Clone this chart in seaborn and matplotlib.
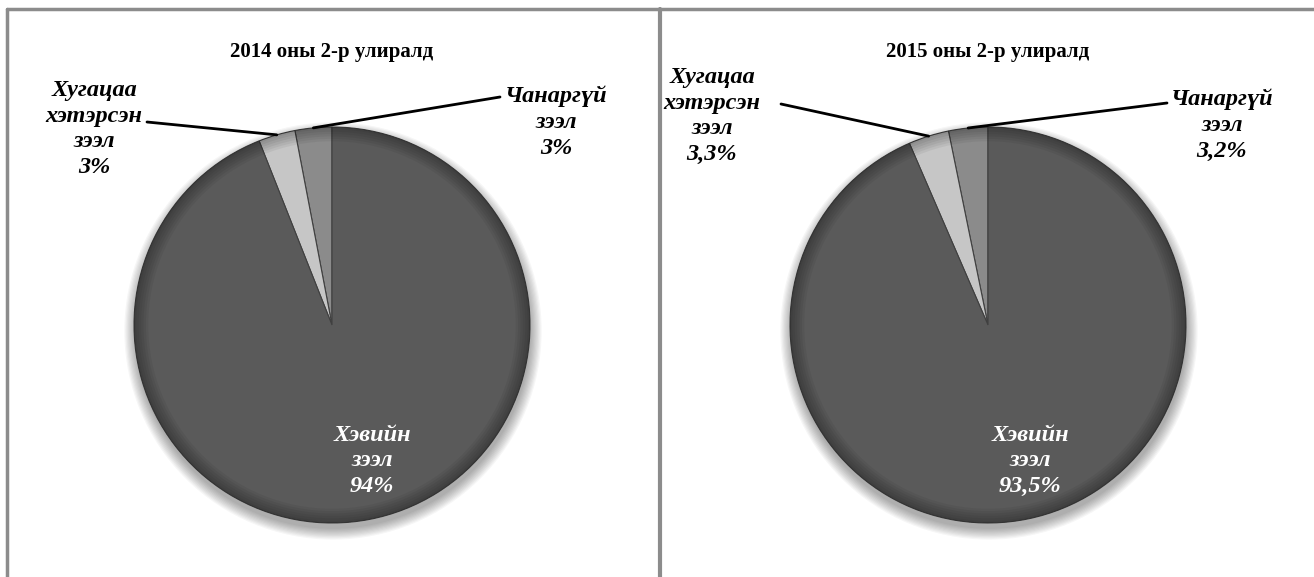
import numpy as np
import matplotlib
matplotlib.use("Agg")
import matplotlib.pyplot as plt
from matplotlib.patches import Circle, Wedge
import seaborn as sns

# --- data ---
titles = ["2014 оны 2-р улиралд", "2015 оны 2-р улиралд"]
categories = ["Чанаргүй\nзээл", "Хугацаа\nхэтэрсэн\nзээл", "Хэвийн\nзээл"]
shares_2014 = [3.0, 3.0, 94.0]
shares_2015 = [3.2, 3.3, 93.5]
pct_2014 = ["3%", "3%", "94%"]
pct_2015 = ["3,2%", "3,3%", "93,5%"]

sns.set_theme(style="white")
plt.rcParams['font.family'] = ['Liberation Serif', 'DejaVu Serif']
colors = sns.color_palette(["#8b8b8b", "#c6c6c6", "#5a5a5a"])

W, H = 1314, 577
fig = plt.figure(figsize=(W / 100, H / 100), dpi=100)

# panel frames
frame = fig.add_axes([0, 0, 1, 1], zorder=0)
frame.set_xlim(0, W)
frame.set_ylim(H, 0)
frame.axis("off")
frame.plot([7, W], [9, 9], color="#8c8c8c", lw=2.5)
frame.plot([7, 7], [9, H], color="#8c8c8c", lw=2.5)
frame.plot([660, 660], [9, H], color="#8c8c8c", lw=3)

lab_font = dict(family="Liberation Serif", weight="bold", style="italic", size=17.5)

panels = [
    dict(shares=shares_2014, pct=pct_2014, title=titles[0], cx=332, cy=325,
         late=(94, 129), late_end=(147, 122), bad=(556, 122), bad_end=(500, 97),
         inside=(372, 461)),
    dict(shares=shares_2015, pct=pct_2015, title=titles[1], cx=988, cy=325,
         late=(712, 116), late_end=(781, 104), bad=(1222, 125), bad_end=(1167, 103),
         inside=(1030, 461)),
]

r = 198
pad = 1.15
for p in panels:
    cx, cy = p["cx"], p["cy"]
    ax = fig.add_axes([(cx - r * pad) / W, (H - cy - r * pad) / H,
                       2 * r * pad / W, 2 * r * pad / H], zorder=2)

    # soft shadow
    for k in range(10):
        ax.add_patch(Circle((0.005, -0.03), 1.0 + 0.006 * k, facecolor="black",
                            alpha=0.035, lw=0, zorder=0))

    wedges, _ = ax.pie(p["shares"], colors=colors, startangle=90, counterclock=True,
                       radius=1.0, wedgeprops=dict(edgecolor="#404040", linewidth=0.8))
    for w in wedges:
        w.set_zorder(2)
    ax.set_xlim(-pad, pad)
    ax.set_ylim(-pad, pad)
    ax.axis("off")
    # rim bevel
    for k in range(6):
        ax.add_patch(Wedge((0, 0), 1.0, 0, 360, width=0.012 * (k + 1),
                           facecolor="black", alpha=0.05, lw=0, zorder=3))

    # leader lines from wedge middles
    start = 90.0
    mids = []
    for s in p["shares"]:
        mids.append(np.deg2rad(start + 3.6 * s / 2))
        start += 3.6 * s
    for idx, end in [(0, p["bad_end"]), (1, p["late_end"])]:
        ax.annotate("", xy=(np.cos(mids[idx]), np.sin(mids[idx])), xycoords="data",
                    xytext=(end[0], H - end[1]), textcoords="figure pixels",
                    arrowprops=dict(arrowstyle="-", color="black", lw=2,
                                    shrinkA=0, shrinkB=0), zorder=5)

    # inside label
    ix, iy = p["inside"]
    ax.text((ix - cx) / r, (cy - iy) / r, categories[2] + "\n" + p["pct"][2],
            color="white", ha="center", va="center", linespacing=1.3,
            zorder=6, **lab_font)

    # outside labels
    fig.text(p["late"][0] / W, 1 - p["late"][1] / H, categories[1] + "\n" + p["pct"][1],
             ha="center", va="center", linespacing=1.3, color="black", **lab_font)
    fig.text(p["bad"][0] / W, 1 - p["bad"][1] / H, categories[0] + "\n" + p["pct"][0],
             ha="center", va="center", linespacing=1.3, color="black", **lab_font)

    fig.text(cx / W, 1 - 52 / H, p["title"], ha="center", va="center",
             family="Liberation Serif", weight="bold", size=15, color="black")

fig.savefig("out.png", dpi=100)
